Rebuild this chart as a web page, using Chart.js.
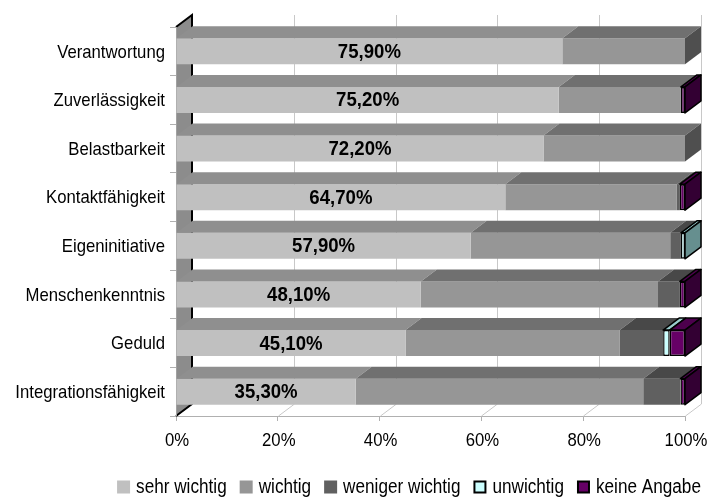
<!DOCTYPE html>
<html>
<head>
<meta charset="utf-8">
<script src="https://cdn.jsdelivr.net/npm/chart.js@4/dist/chart.umd.min.js"></script>
<style>
  html, body { margin: 0; padding: 0; background: #fff; }
  #c { display: block; }
</style>
</head>
<body>
<canvas id="c" width="718" height="500"></canvas>
<script>
// Kategorien und Anteile (Prozent)
const categories = ['Verantwortung', 'Zuverlässigkeit', 'Belastbarkeit', 'Kontaktfähigkeit',
  'Eigeninitiative', 'Menschenkenntnis', 'Geduld', 'Integrationsfähigkeit'];
const sehrWichtig    = [75.9, 75.2, 72.2, 64.7, 57.9, 48.1, 45.1, 35.3];
const wichtig        = [24.1, 24.0, 27.8, 33.7, 39.2, 46.6, 42.1, 56.5];
const wenigerWichtig = [0, 0, 0, 0.6, 2.1, 4.3, 8.5, 7.3];
const unwichtig      = [0, 0, 0, 0, 0.8, 0, 1.3, 0];
const keineAngabe    = [0, 0.8, 0, 1.0, 0, 1.0, 3.0, 0.9];
const seriesNames = ['sehr wichtig', 'wichtig', 'weniger wichtig', 'unwichtig', 'keine Angabe'];
const xTickValues = [0, 20, 40, 60, 80, 100];

const FONT = '"Liberation Sans", Arial, sans-serif';
const NARROW = 0.88;          // horizontale Stauchung der Schrift
const DEPTH_X = 16, DEPTH_Y = 12;

// Farben: Vorderseite, Oberseite, rechte Seite, Rahmen
const faces = [
  { front: '#c0c0c0', top: '#8f8f8f', side: '#7a7a7a', border: null },
  { front: '#969696', top: '#707070', side: '#4f4f4f', border: null },
  { front: '#606060', top: '#484848', side: '#333333', border: null },
  { front: '#ccffff', top: '#99cccc', side: '#668f8f', border: '#000000' },
  { front: '#660066', top: '#4d004d', side: '#330033', border: '#000000' }
];

const seriesData = [sehrWichtig, wichtig, wenigerWichtig, unwichtig, keineAngabe];

const datasets = seriesData.map((values, i) => ({
  label: seriesNames[i],
  data: values,
  backgroundColor: faces[i].front,
  borderColor: faces[i].border || faces[i].front,
  borderWidth: faces[i].border ? 1.5 : 0,
  borderSkipped: false,
  barPercentage: 0.535,
  categoryPercentage: 1.0
}));

function fillPoly(ctx, pts, fill, stroke, lw) {
  ctx.beginPath();
  ctx.moveTo(pts[0][0], pts[0][1]);
  for (let k = 1; k < pts.length; k++) ctx.lineTo(pts[k][0], pts[k][1]);
  ctx.closePath();
  ctx.fillStyle = fill;
  ctx.fill();
  if (stroke) {
    ctx.strokeStyle = stroke;
    ctx.lineWidth = lw || 1.5;
    ctx.lineJoin = 'round';
    ctx.stroke();
  }
}

// schmal gesetzter Text
function narrowText(ctx, txt, x, y, align, font, scale) {
  ctx.save();
  ctx.font = font;
  ctx.textAlign = align;
  ctx.textBaseline = 'middle';
  ctx.fillStyle = '#000';
  ctx.translate(x, y);
  ctx.scale(scale, 1);
  ctx.fillText(txt, 0, 0);
  ctx.restore();
}

// Rückwand, Boden und linke Seitenwand
const wallsPlugin = {
  id: 'walls',
  beforeDatasetsDraw(chart) {
    const { ctx, chartArea: a, scales: { x } } = chart;
    ctx.save();
    ctx.strokeStyle = '#c8c8c8';
    ctx.lineWidth = 1;
    xTickValues.forEach(v => {
      const px = Math.round(x.getPixelForValue(v)) + 0.5;
      ctx.beginPath();
      ctx.moveTo(px, a.bottom);
      ctx.lineTo(px + DEPTH_X, a.bottom - DEPTH_Y);
      ctx.lineTo(px + DEPTH_X, a.top - DEPTH_Y);
      ctx.stroke();
    });
    const L = x.getPixelForValue(0);
    fillPoly(ctx, [[L, a.top], [L + DEPTH_X, a.top - DEPTH_Y], [L + DEPTH_X, a.bottom - DEPTH_Y], [L, a.bottom]], '#8c8c8c');
    ctx.strokeStyle = '#000';
    ctx.lineWidth = 2;
    ctx.beginPath();
    ctx.moveTo(L, a.top);
    ctx.lineTo(L + DEPTH_X, a.top - DEPTH_Y);
    ctx.lineTo(L + DEPTH_X, a.bottom - DEPTH_Y);
    ctx.lineTo(L, a.bottom);
    ctx.stroke();
    ctx.strokeStyle = '#a0a0a0';
    ctx.lineWidth = 1;
    ctx.beginPath();
    ctx.moveTo(L + 0.5, a.top);
    ctx.lineTo(L + 0.5, a.bottom);
    ctx.stroke();
    ctx.restore();
  }
};

// Ober- und Seitenflächen der Balken, Beschriftungen, Legende
const depthPlugin = {
  id: 'depth',
  afterDatasetsDraw(chart) {
    const { ctx } = chart;
    ctx.save();
    categories.forEach((_, i) => {
      let last = -1;
      seriesData.forEach((vals, d) => { if (vals[i] > 0) last = d; });
      seriesData.forEach((vals, d) => {
        if (!(vals[i] > 0)) return;
        const el = chart.getDatasetMeta(d).data[i];
        const x0 = el.base, x1 = el.x;
        const top = el.y - el.height / 2, bot = el.y + el.height / 2;
        const f = faces[d];
        fillPoly(ctx, [[x0, top], [x0 + DEPTH_X, top - DEPTH_Y], [x1 + DEPTH_X, top - DEPTH_Y], [x1, top]],
          f.top, f.border, 1.5);
        if (d === last) {
          fillPoly(ctx, [[x1, top], [x1 + DEPTH_X, top - DEPTH_Y], [x1 + DEPTH_X, bot - DEPTH_Y], [x1, bot]],
            f.side, f.border, 1.5);
        }
      });
      // Wert "sehr wichtig" mittig auf der Vorderseite
      const el0 = chart.getDatasetMeta(0).data[i];
      const txt = sehrWichtig[i].toFixed(2).replace('.', ',') + '%';
      narrowText(ctx, txt, (el0.base + el0.x) / 2, el0.y + 1, 'center', 'bold 20px ' + FONT, 0.93);
    });
    ctx.restore();
  },
  afterDraw(chart) {
    const { ctx, scales: { x, y } } = chart;
    // Kategorienbeschriftung
    categories.forEach((c, i) => {
      narrowText(ctx, c, x.left - 11, y.getPixelForTick(i) + 1, 'right', '19px ' + FONT, NARROW);
    });
    // Achsenbeschriftung unten
    xTickValues.forEach(v => {
      narrowText(ctx, v + '%', x.getPixelForValue(v) + 1, 441, 'center', '19px ' + FONT, NARROW);
    });
    // Legende unten
    ctx.save();
    const font = '19.5px ' + FONT;
    ctx.font = font;
    const box = 13, gapBox = 6, gapItem = 13, cy = 487;
    const widths = seriesNames.map(n => ctx.measureText(n).width * NARROW);
    const total = widths.reduce((s, w) => s + box + gapBox + w, 0) + gapItem * (seriesNames.length - 1);
    let xx = 409 - total / 2;
    seriesNames.forEach((n, d) => {
      const f = faces[d];
      if (f.border) {
        ctx.fillStyle = f.front;
        ctx.fillRect(xx + 1, cy - box / 2 + 1, box - 2, box - 2);
        ctx.strokeStyle = '#000';
        ctx.lineWidth = 2;
        ctx.strokeRect(xx + 1, cy - box / 2 + 1, box - 2, box - 2);
      } else {
        ctx.fillStyle = f.front;
        ctx.fillRect(xx, cy - box / 2, box, box);
      }
      narrowText(ctx, n, xx + box + gapBox, cy + 1, 'left', font, NARROW);
      xx += box + gapBox + widths[d] + gapItem;
    });
    ctx.restore();
  }
};

new Chart(document.getElementById('c'), {
  type: 'bar',
  data: { labels: categories, datasets },
  options: {
    indexAxis: 'y',
    responsive: false,
    animation: false,
    devicePixelRatio: 1,
    layout: { padding: { top: 27, right: 33, left: 0, bottom: 0 } },
    plugins: { legend: { display: false }, tooltip: { enabled: false } },
    scales: {
      x: {
        stacked: true, min: 0, max: 100,
        afterBuildTicks(s) { s.ticks = xTickValues.map(v => ({ value: v })); },
        afterFit(s) { s.height = 84; },
        ticks: { display: false },
        grid: { drawOnChartArea: false, tickLength: 5, color: '#b0b0b0' },
        border: { color: '#b0b0b0' }
      },
      y: {
        stacked: true,
        afterFit(s) { s.width = 176; },
        ticks: { display: false },
        grid: { offset: true, drawOnChartArea: false, tickLength: 6, color: '#b0b0b0' },
        border: { display: false }
      }
    }
  },
  plugins: [wallsPlugin, depthPlugin]
});
</script>
</body>
</html>
